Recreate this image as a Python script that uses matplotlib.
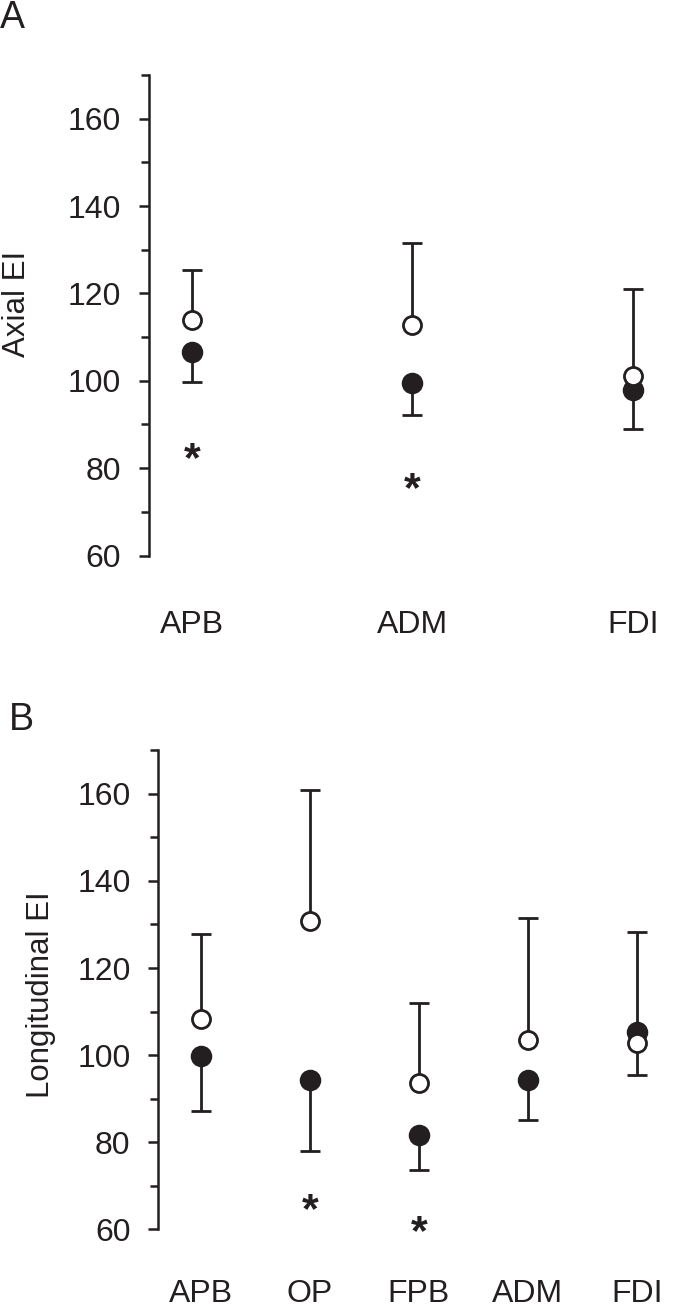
import matplotlib
matplotlib.use("Agg")
import matplotlib.pyplot as plt
import matplotlib.transforms as mtrans
import numpy as np

plt.rcParams['font.family'] = ['Liberation Sans', 'DejaVu Sans']

# ---- Panel A data (Axial EI) ----
muscles_a = ["APB", "ADM", "FDI"]
open_a = [113.9, 112.7, 101.0]
filled_a = [106.7, 99.5, 97.9]
upper_a = [125.3, 131.5, 121.1]
lower_a = [99.7, 92.2, 89.0]
sig_a_idx = [0, 1]
sig_a_y = [83.8, 76.8]

# ---- Panel B data (Longitudinal EI) ----
muscles_b = ["APB", "OP", "FPB", "ADM", "FDI"]
open_b = [108.4, 130.9, 93.5, 103.5, 102.7]
filled_b = [99.8, 94.2, 81.7, 94.2, 105.4]
upper_b = [127.9, 160.9, 112.0, 131.5, 128.2]
lower_b = [87.2, 77.9, 73.6, 85.0, 95.4]
sig_b_idx = [1, 2]
sig_b_y = [66.1, 61.0]

ylabel_a = "Axial EI"
ylabel_b = "Longitudinal EI"

C = '#231f20'
W, H = 685, 1311
fig = plt.figure(figsize=(W / 100, H / 100), dpi=100)


def px_axes(left, top, right, bottom):
    return fig.add_axes([left / W, 1 - bottom / H, (right - left) / W, (bottom - top) / H])


def draw(ax, names, opn, fil, up, lo, sig_idx, sig_y, xlim, xpad):
    x = np.arange(1, len(names) + 1)
    opn = np.asarray(opn); fil = np.asarray(fil)
    up = np.asarray(up); lo = np.asarray(lo)
    # upper bar from open mean, lower bar from filled mean
    ax.vlines(x, opn, up, color=C, lw=2.0, zorder=1)
    ax.vlines(x, lo, fil, color=C, lw=2.0, zorder=1)
    ax.plot(x, up, ls='none', marker='_', ms=14, mew=2.0, color=C, zorder=1)
    ax.plot(x, lo, ls='none', marker='_', ms=14, mew=2.0, color=C, zorder=1)
    ax.plot(x, fil, ls='none', marker='o', ms=14, mfc=C, mec=C, mew=1.5, zorder=2)
    ax.plot(x, opn, ls='none', marker='o', ms=13, mfc='white', mec=C, mew=2.0, zorder=3)
    off = mtrans.offset_copy(ax.transData, fig=fig, x=0, y=-6, units='points')
    for i, yv in zip(sig_idx, sig_y):
        ax.text(x[i], yv, "*", ha='center', va='center', fontsize=31,
                fontweight='bold', color=C, transform=off)
    ax.set_xlim(*xlim)
    ax.set_ylim(60, 170)
    ax.set_yticks(np.arange(60, 161, 20))
    ax.set_yticks(np.arange(70, 171, 20), minor=True)
    ax.set_xticks(x)
    ax.set_xticklabels(names)
    for s in ['top', 'right', 'bottom']:
        ax.spines[s].set_visible(False)
    ax.spines['left'].set_linewidth(1.8)
    ax.spines['left'].set_color(C)
    ax.tick_params(axis='y', which='major', length=7, width=1.8, color=C,
                   labelsize=23, pad=13, labelcolor=C)
    ax.tick_params(axis='y', which='minor', length=5.5, width=1.8, color=C)
    ax.tick_params(axis='x', length=0, labelsize=23, pad=xpad, labelcolor=C)


axA = px_axes(149, 75, 680, 555.5)
draw(axA, muscles_a, open_a, filled_a, upper_a, lower_a, sig_a_idx, sig_a_y,
     (0.8034, 3.215), 39)
fig.text(17 / W, 1 - 304 / H, ylabel_a, rotation=90, ha='center', va='center',
         fontsize=22.5, color=C)

axB = px_axes(158.3, 750.3, 680, 1229.3)
draw(axB, muscles_b, open_b, filled_b, upper_b, lower_b, sig_b_idx, sig_b_y,
     (0.608, 5.398), 36)
fig.text(41 / W, 1 - 995 / H, ylabel_b, rotation=90, ha='center', va='center',
         fontsize=22.5, color=C)

fig.text(0 / W, 1 - 0 / H, "A", fontsize=27, color=C, ha='left', va='top')
fig.text(9 / W, 1 - 702 / H, "B", fontsize=27, color=C, ha='left', va='top')

fig.savefig("out.png", dpi=100)
